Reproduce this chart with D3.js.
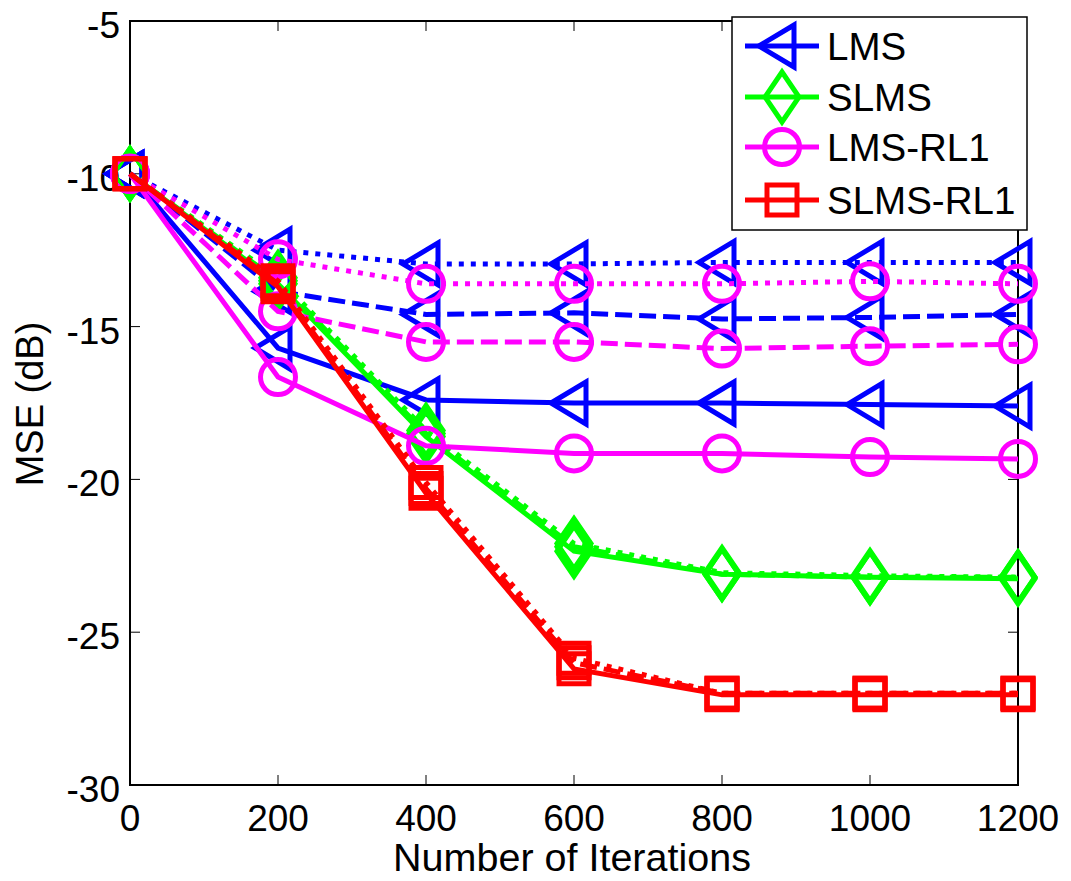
<!DOCTYPE html>
<html>
<head>
<meta charset="utf-8">
<script src="https://cdn.jsdelivr.net/npm/d3@7"></script>
<style>
  html, body { margin: 0; padding: 0; background: #fff; }
  svg { display: block; }
  text { font-family: "Liberation Sans", Arial, sans-serif; fill: #000; }
</style>
</head>
<body>
<svg id="chart" width="1071" height="881"></svg>
<script>
// ---------------- data ----------------
const iterations = [0, 200, 400, 600, 800, 1000, 1200];
const xTicks = [0, 200, 400, 600, 800, 1000, 1200];
const yTicks = [-5, -10, -15, -20, -25, -30];

const lmsSolid   = [-10, -15.7, -17.4, -17.5, -17.5, -17.55, -17.6];
const lmsDashed  = [-10, -13.85, -14.6, -14.55, -14.75, -14.7, -14.6];
const lmsDotted  = [-10, -12.5, -12.95, -12.95, -12.9, -12.9, -12.9];

const slmsSolid  = [-10, -13.6, -18.6, -22.35, -23.1, -23.2, -23.25];
const slmsDashed = [-10, -13.5, -18.5, -22.2, -23.1, -23.2, -23.2];
const slmsDotted = [-10, -13.4, -18.4, -22.1, -23.05, -23.15, -23.2];

const rl1Solid   = [-10, -16.65, -18.9, -19.15, -19.15, -19.27, -19.33];
const rl1Dashed  = [-10, -14.5, -15.5, -15.5, -15.72, -15.64, -15.58];
const rl1Dotted  = [-10, -12.8, -13.6, -13.6, -13.6, -13.52, -13.6];

const srl1Solid  = [-10, -13.7, -20.45, -26.2, -27.05, -27.05, -27.05];
const srl1Dashed = [-10, -13.6, -20.3, -26.0, -27.0, -27.0, -27.0];
const srl1Dotted = [-10, -13.5, -20.1, -25.85, -27.0, -27.0, -27.0];

const legendNames = ["LMS", "SLMS", "LMS-RL1", "SLMS-RL1"];

// ---------------- layout ----------------
const svg = d3.select("#chart");
const L = 130, R = 1018, T = 21, B = 785;
const x = d3.scaleLinear().domain([0, 1200]).range([L, R]);
const y = d3.scaleLinear().domain([-30, -5]).range([B, T]);

const FS = 37;
const LW = 5;

// tick labels
svg.append("g").selectAll("text").data(yTicks).join("text")
  .attr("x", L - 10).attr("y", d => y(d) + 17)
  .attr("text-anchor", "end").attr("font-size", FS)
  .text(d => d);
svg.append("g").selectAll("text").data(xTicks).join("text")
  .attr("x", d => x(d)).attr("y", B + 46)
  .attr("text-anchor", "middle").attr("font-size", FS)
  .text(d => d);

// axis labels
svg.append("text").attr("x", (L + R) / 2 - 2).attr("y", 871)
  .attr("text-anchor", "middle").attr("font-size", 39.5)
  .text("Number of Iterations");
svg.append("text").attr("transform", "translate(43,404) rotate(-90)")
  .attr("text-anchor", "middle").attr("font-size", 38)
  .text("MSE (dB)");

// box
svg.append("rect").attr("x", L).attr("y", T).attr("width", R - L).attr("height", B - T)
  .attr("fill", "none").attr("stroke", "#000").attr("stroke-width", 2);
// ticks (inward, all four sides)
const tk = svg.append("g").attr("stroke", "#000").attr("stroke-width", 1);
yTicks.forEach(v => {
  tk.append("line").attr("x1", L).attr("x2", L + 10).attr("y1", y(v)).attr("y2", y(v));
  tk.append("line").attr("x1", R).attr("x2", R - 10).attr("y1", y(v)).attr("y2", y(v));
});
xTicks.forEach(v => {
  tk.append("line").attr("x1", x(v)).attr("x2", x(v)).attr("y1", B).attr("y2", B - 10);
  tk.append("line").attr("x1", x(v)).attr("x2", x(v)).attr("y1", T).attr("y2", T + 10);
});

// markers
const markerPaths = {
  tri: "M-23,0 L12,-21 L12,21 Z",
  dia: "M0,-25 L17,0 L0,25 L-17,0 Z",
  circ: d3.arc()({innerRadius: 0, outerRadius: 17.5, startAngle: 0, endAngle: 2 * Math.PI}),
  sq: "M-15,-15 L15,-15 L15,15 L-15,15 Z"
};
const DOT = "5,7", DASH = "17,7";
const series = [
  {vals: lmsSolid,   color: "#0000FF", dash: null, m: "tri"},
  {vals: lmsDashed,  color: "#0000FF", dash: DASH, m: "tri"},
  {vals: lmsDotted,  color: "#0000FF", dash: DOT,  m: "tri"},
  {vals: slmsSolid,  color: "#00FF00", dash: null, m: "dia"},
  {vals: slmsDashed, color: "#00FF00", dash: DASH, m: "dia"},
  {vals: slmsDotted, color: "#00FF00", dash: DOT,  m: "dia"},
  {vals: rl1Solid,   color: "#FF00FF", dash: null, m: "circ"},
  {vals: rl1Dashed,  color: "#FF00FF", dash: DASH, m: "circ"},
  {vals: rl1Dotted,  color: "#FF00FF", dash: DOT,  m: "circ"},
  {vals: srl1Solid,  color: "#FF0000", dash: null, m: "sq"},
  {vals: srl1Dashed, color: "#FF0000", dash: DASH, m: "sq"},
  {vals: srl1Dotted, color: "#FF0000", dash: DOT,  m: "sq"}
];
const line = d3.line().x((d, i) => x(iterations[i])).y(d => y(d));
const plot = svg.append("g");
series.forEach(s => {
  const g = plot.append("g");
  g.append("path").attr("d", line(s.vals)).attr("fill", "none")
    .attr("stroke", s.color).attr("stroke-width", LW)
    .attr("stroke-dasharray", s.dash);
  g.selectAll("path.mk").data(s.vals).join("path").attr("class", "mk")
    .attr("transform", (d, i) => `translate(${x(iterations[i])},${y(d)})`)
    .attr("d", markerPaths[s.m]).attr("fill", "none")
    .attr("stroke", s.color).attr("stroke-width", LW);
});

// legend
const lg = svg.append("g");
lg.append("rect").attr("x", 732).attr("y", 17).attr("width", 295).attr("height", 213)
  .attr("fill", "#fff").attr("stroke", "#000").attr("stroke-width", 1.5);
const legendColors = ["#0000FF", "#00FF00", "#FF00FF", "#FF0000"];
const legendMarkers = ["tri", "dia", "circ", "sq"];
const legendY = [46, 97, 147, 200];
legendNames.forEach((n, i) => {
  lg.append("line").attr("x1", 745).attr("x2", 819).attr("y1", legendY[i]).attr("y2", legendY[i])
    .attr("stroke", legendColors[i]).attr("stroke-width", LW);
  lg.append("path").attr("transform", `translate(782,${legendY[i]})`)
    .attr("d", markerPaths[legendMarkers[i]]).attr("fill", "none")
    .attr("stroke", legendColors[i]).attr("stroke-width", LW);
  lg.append("text").attr("x", 827).attr("y", legendY[i] + 14).attr("font-size", 38.5).text(n);
});
</script>
</body>
</html>
